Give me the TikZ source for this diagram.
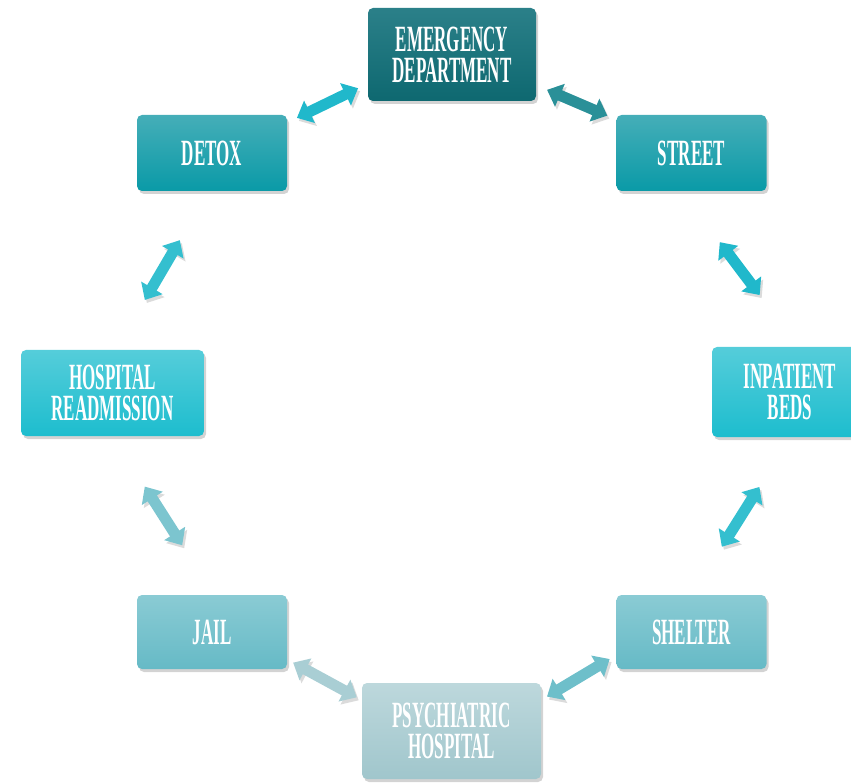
\documentclass[tikz,border=0pt]{standalone}
\usepackage{fontspec}
\usepackage{xcolor}
\usepackage{tikz}
\usetikzlibrary{arrows.meta, shadows}
\newfontfamily\boxfont[FakeStretch=0.46]{Liberation Serif}
\definecolor{edtop}{HTML}{2B8089}
\definecolor{edbot}{HTML}{0E6870}
\definecolor{midtop}{HTML}{45AEB8}
\definecolor{midbot}{HTML}{0A9AA7}
\definecolor{cyantop}{HTML}{55CDDA}
\definecolor{cyanbot}{HTML}{1DBDCE}
\definecolor{softtop}{HTML}{8ACBD4}
\definecolor{softbot}{HTML}{66BAC6}
\definecolor{paletop}{HTML}{BDD8DC}
\definecolor{palebot}{HTML}{A0C6CC}
\definecolor{lnkcyan}{HTML}{20B8CB}
\definecolor{lnkteal}{HTML}{2A9098}
\definecolor{lnkbright}{HTML}{34BFCF}
\definecolor{lnksoft}{HTML}{7CC5CF}
\definecolor{lnkpale}{HTML}{A9CED4}
\definecolor{lnkmid}{HTML}{6EBFCA}
\tikzset{
  boxnode/.style={rectangle,rounded corners=5pt,inner sep=0pt,outer sep=0pt,
    text=white,align=center,font=\boxfont\bfseries\fontsize{37}{31}\selectfont,
    drop shadow={shadow xshift=2pt,shadow yshift=-3pt,opacity=0.35}},
  smallbox/.style={boxnode,minimum width=150pt,minimum height=76pt},
  linkedge/.style={line width=11pt,
    {Triangle[length=14pt,width=24pt]}-{Triangle[length=14pt,width=24pt]},
    preaction={draw=black!14,transform canvas={shift={(2pt,-3pt)}}}},
}

\begin{document}
\begin{tikzpicture}[x=1pt,y=-1pt]
  \useasboundingbox (0,0) rectangle (851,783);
  \clip (0,0) rectangle (851,783);
  \node[boxnode,minimum width=168pt,minimum height=93pt,top color=edtop,bottom color=edbot] (nED) at (452,54.5) {EMERGENCY\\DEPARTMENT};
  \node[smallbox,top color=midtop,bottom color=midbot] (nDetox) at (212,153) {DETOX};
  \node[smallbox,top color=midtop,bottom color=midbot] (nStreet) at (691.5,153) {STREET};
  \node[boxnode,minimum width=156pt,minimum height=90pt,top color=cyantop,bottom color=cyanbot] (nInp) at (790,392) {INPATIENT\\BEDS};
  \node[boxnode,minimum width=183pt,minimum height=86pt,top color=cyantop,bottom color=cyanbot] (nHosp) at (112.5,393) {HOSPITAL\\READMISSION};
  \node[smallbox,minimum height=74pt,top color=softtop,bottom color=softbot] (nJail) at (212,632) {JAIL};
  \node[smallbox,minimum height=74pt,top color=softtop,bottom color=softbot] (nShelter) at (691.5,632) {SHELTER};
  \node[boxnode,minimum width=179pt,minimum height=96pt,top color=paletop,bottom color=palebot] (nPsych) at (451.5,731) {PSYCHIATRIC\\HOSPITAL};
  % two-way links round the loop
  \draw[linkedge,draw=lnkcyan,shorten <=11pt,shorten >=11pt] (nED.199) -- (nDetox.22);
  \draw[linkedge,draw=lnkteal,shorten <=12pt,shorten >=10pt] (nED.340) -- (nStreet.156);
  \draw[linkedge,draw=lnkcyan,shorten <=64pt,shorten >=65pt] (nStreet.255) -- (nInp.79);
  \draw[linkedge,draw=lnkbright,shorten <=57pt,shorten >=58pt] (nDetox.265) -- (nHosp.86);
  \draw[linkedge,draw=lnksoft,shorten <=60pt,shorten >=59pt] (nHosp.south) -- (nJail.87);
  \draw[linkedge,draw=lnkbright,shorten <=59pt,shorten >=57pt] (nInp.271) -- (nShelter.north);
  \draw[linkedge,draw=lnkpale,shorten <=7pt,shorten >=6pt] (nJail.340) -- (nPsych.161);
  \draw[linkedge,draw=lnkmid,shorten <=8pt,shorten >=7pt] (nShelter.197) -- (nPsych.19);
\end{tikzpicture}
\end{document}
